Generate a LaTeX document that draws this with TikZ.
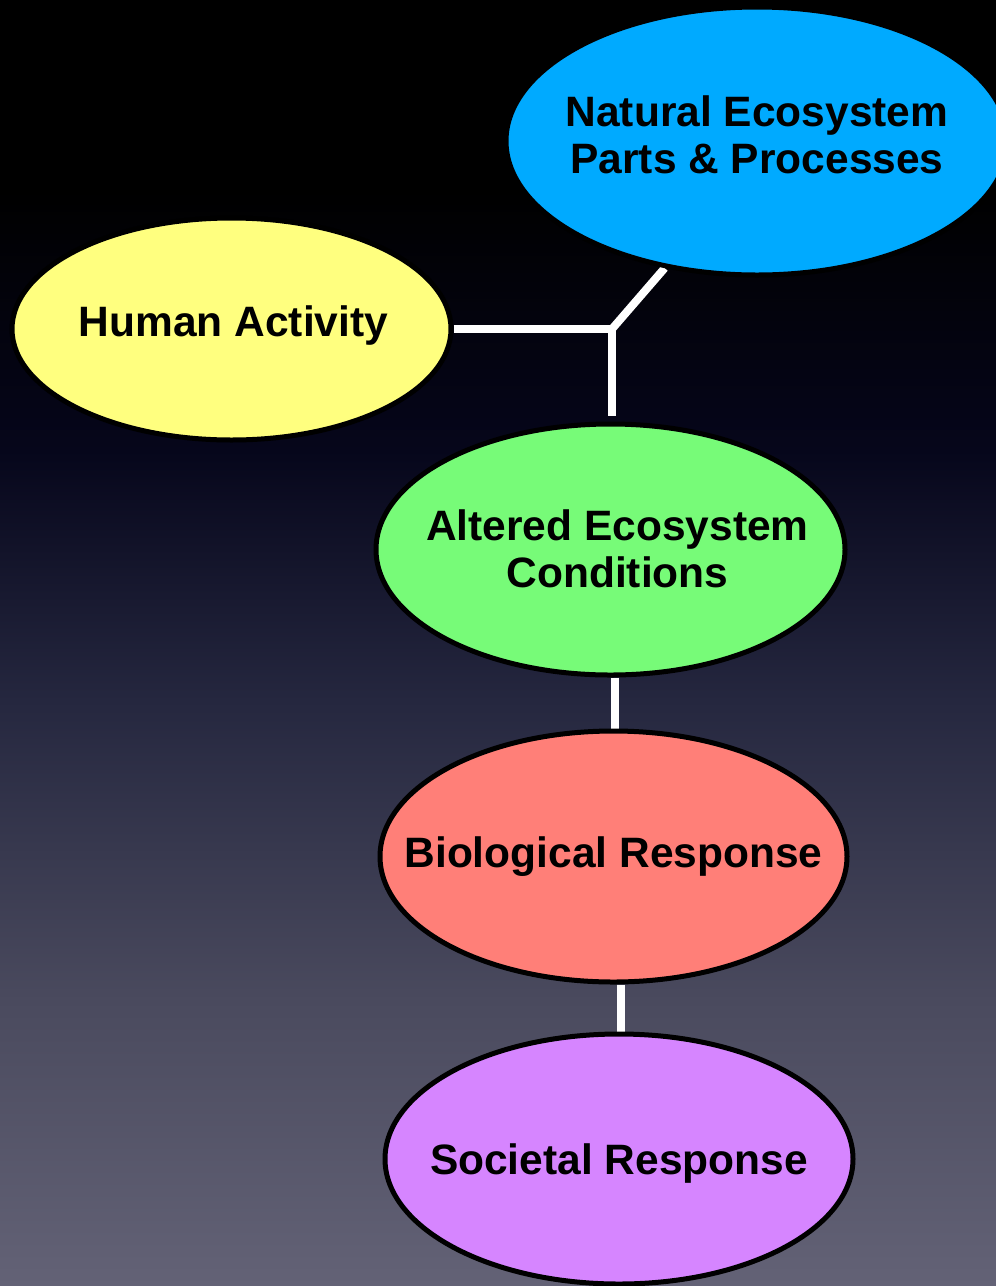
\documentclass[tikz,border=0pt]{standalone}
\usepackage{fontspec}
\setmainfont{Liberation Sans}
\usetikzlibrary{shapes.geometric}
\pgfdeclarelayer{bg}
\pgfdeclarelayer{conn}
\pgfsetlayers{bg,conn,main}
\definecolor{bgA}{HTML}{000000}
\definecolor{bgB}{HTML}{06061B}
\definecolor{bgC}{HTML}{25273F}
\definecolor{bgD}{HTML}{4A4A5E}
\definecolor{bgE}{HTML}{636276}
\definecolor{natcol}{HTML}{00AAFF}
\definecolor{humcol}{HTML}{FFFF7F}
\definecolor{grncol}{HTML}{77FB78}
\definecolor{redcol}{HTML}{FF7F78}
\definecolor{viocol}{HTML}{D685FF}
\tikzset{
  blob/.style={ellipse, draw=black, line width=5pt, inner sep=0pt},
  lbl/.style={font=\fontsize{42.5}{47}\selectfont\bfseries, text=black, align=center, inner sep=0pt},
  conn/.style={draw=white, line width=8pt, line cap=butt, line join=miter}
}
\begin{document}
\begin{tikzpicture}[x=1pt,y=-1pt]
\useasboundingbox (0,0) rectangle (996,1286);
\begin{pgfonlayer}{bg}
  \fill[bgA] (0,0) rectangle (996,191);
  \fill[top color=bgA, bottom color=bgB] (0,190) rectangle (996,451);
  \fill[top color=bgB, bottom color=bgC] (0,450) rectangle (996,701);
  \fill[top color=bgC, bottom color=bgD] (0,700) rectangle (996,1001);
  \fill[top color=bgD, bottom color=bgE] (0,1000) rectangle (996,1286);
\end{pgfonlayer}

\node[blob, fill=natcol, minimum width=502pt, minimum height=268pt,
  label={[lbl, yshift=6pt]center:{Natural Ecosystem\\Parts \& Processes}}] (nat) at (757,141) {};
\node[blob, fill=humcol, minimum width=439pt, minimum height=222pt,
  label={[lbl, xshift=2pt, yshift=3pt]center:{Human Activity}}] (hum) at (231.5,329) {};
\node[blob, fill=grncol, minimum width=469pt, minimum height=251pt,
  label={[lbl, xshift=7pt, yshift=1pt]center:{Altered Ecosystem\\Conditions}}] (grn) at (610.5,549.5) {};
\node[blob, fill=redcol, minimum width=467pt, minimum height=251pt,
  label={[lbl, yshift=0pt]center:{Biological Response}}] (red) at (613.5,856.5) {};
\node[blob, fill=viocol, minimum width=468pt, minimum height=250pt,
  label={[lbl, yshift=-4pt]center:{Societal Response}}] (vio) at (619,1159) {};

\coordinate (J) at (612,329);
\coordinate (Jdown) at (J |- grn.north);
\begin{pgfonlayer}{conn}
  \draw[conn] (hum.east) -- (J) -- ([yshift=6pt]Jdown);
  \draw[conn] (J) -- (nat.234);
  \draw[conn] ([xshift=4.5pt]grn.south) -- ([xshift=1.5pt]red.north);
  \draw[conn] ([xshift=7.5pt]red.south) -- ([xshift=2pt]vio.north);
\end{pgfonlayer}
\end{tikzpicture}
\end{document}
